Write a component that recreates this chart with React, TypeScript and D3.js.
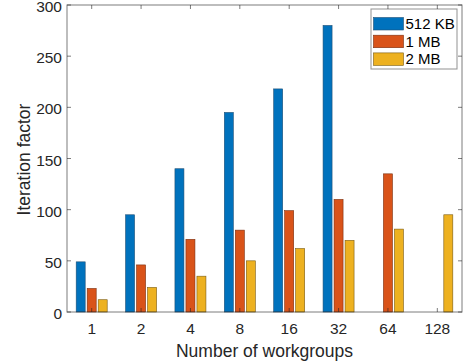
import React, { useEffect, useRef } from 'react';
import * as d3 from 'd3';

// chart data
const categories = ['1', '2', '4', '8', '16', '32', '64', '128'];
const seriesNames = ['512 KB', '1 MB', '2 MB'];
const kb512 = [49, 95, 140, 195, 218, 280, 0, 0];
const mb1 = [23, 46, 71, 80, 99, 110, 135, 0];
const mb2 = [12, 24, 35, 50, 62, 70, 81, 95];
const yTicks = [0, 50, 100, 150, 200, 250, 300];

const colors = ['#0072BD', '#D95319', '#EDB120'];
const edges = ['#1f4f75', '#7a2e0e', '#7a5b12'];

const width = 466;
const height = 362;
const margin = { left: 67, top: 5, right: 4, bottom: 50 };

function App() {
  const ref = useRef<SVGSVGElement>(null);

  useEffect(() => {
    const svg = d3.select(ref.current);
    svg.selectAll('*').remove();

    const x0 = margin.left;
    const x1 = width - margin.right;
    const y0 = height - margin.bottom;
    const y1 = margin.top;
    const font = "'Liberation Sans', Arial, Helvetica, sans-serif";
    const axisColor = '#262626';

    const x = d3.scaleBand().domain(categories).range([x0, x1]).paddingInner(0).paddingOuter(0);
    const y = d3.scaleLinear().domain([0, 300]).range([y0, y1]);

    const series = [kb512, mb1, mb2];
    const barW = 9;
    const step = 11;

    const g = svg.append('g');

    series.forEach((vals, si) => {
      g.selectAll('rect.s' + si)
        .data(vals.map((v, i) => ({ v, c: categories[i] })).filter(d => d.v > 0))
        .enter()
        .append('rect')
        .attr('class', 's' + si)
        .attr('x', d => x(d.c)! + x.bandwidth() / 2 + (si - 1) * step - barW / 2)
        .attr('y', d => y(d.v))
        .attr('width', barW)
        .attr('height', d => y(0) - y(d.v))
        .attr('fill', colors[si])
        .attr('stroke', edges[si])
        .attr('stroke-width', 0.6);
    });

    // box
    svg.append('rect')
      .attr('x', x0).attr('y', y1)
      .attr('width', x1 - x0).attr('height', y0 - y1)
      .attr('fill', 'none').attr('stroke', axisColor).attr('stroke-opacity', 0.6).attr('stroke-width', 1);

    const tickLen = 4;
    // x ticks (bottom and top, inward)
    categories.forEach(c => {
      const cx = x(c)! + x.bandwidth() / 2;
      svg.append('line').attr('x1', cx).attr('x2', cx).attr('y1', y0).attr('y2', y0 - tickLen)
        .attr('stroke', axisColor).attr('stroke-opacity', 0.6);
      svg.append('line').attr('x1', cx).attr('x2', cx).attr('y1', y1).attr('y2', y1 + tickLen)
        .attr('stroke', axisColor).attr('stroke-opacity', 0.6);
      svg.append('text').attr('x', cx).attr('y', y0 + 22)
        .attr('text-anchor', 'middle').attr('font-family', font).attr('font-size', 15.5)
        .attr('fill', axisColor).text(c);
    });

    // y ticks (left and right, inward)
    yTicks.forEach(t => {
      const ty = y(t);
      svg.append('line').attr('x1', x0).attr('x2', x0 + tickLen).attr('y1', ty).attr('y2', ty)
        .attr('stroke', axisColor).attr('stroke-opacity', 0.6);
      svg.append('line').attr('x1', x1).attr('x2', x1 - tickLen).attr('y1', ty).attr('y2', ty)
        .attr('stroke', axisColor).attr('stroke-opacity', 0.6);
      svg.append('text').attr('x', x0 - 5).attr('y', ty + 7)
        .attr('text-anchor', 'end').attr('font-family', font).attr('font-size', 15.5)
        .attr('fill', axisColor).text(t);
    });

    // axis labels
    svg.append('text').attr('x', (x0 + x1) / 2).attr('y', 357)
      .attr('text-anchor', 'middle').attr('font-family', font).attr('font-size', 17.5)
      .attr('fill', axisColor).text('Number of workgroups');
    svg.append('text')
      .attr('transform', 'translate(30, 159.5) rotate(-90)')
      .attr('text-anchor', 'middle').attr('font-family', font).attr('font-size', 17.5)
      .attr('fill', axisColor).text('Iteration factor');

    // legend
    const lg = svg.append('g').attr('transform', 'translate(371, 9)');
    lg.append('rect').attr('width', 86).attr('height', 60)
      .attr('fill', 'white').attr('stroke', '#262626').attr('stroke-opacity', 0.5).attr('stroke-width', 1);
    seriesNames.forEach((name, i) => {
      const ry = 8.5 + i * 17.7;
      lg.append('rect').attr('x', 2.5).attr('y', ry).attr('width', 30).attr('height', 12.5)
        .attr('fill', colors[i]).attr('stroke', edges[i]).attr('stroke-width', 0.6);
      lg.append('text').attr('x', 34.5).attr('y', ry + 11.5)
        .attr('font-family', font).attr('font-size', 15).attr('fill', '#000').text(name);
    });
  }, []);

  return (
    <svg ref={ref} width={width} height={height} style={{ position: 'absolute', left: 0, top: 0 }} />
  );
}

export default App;
